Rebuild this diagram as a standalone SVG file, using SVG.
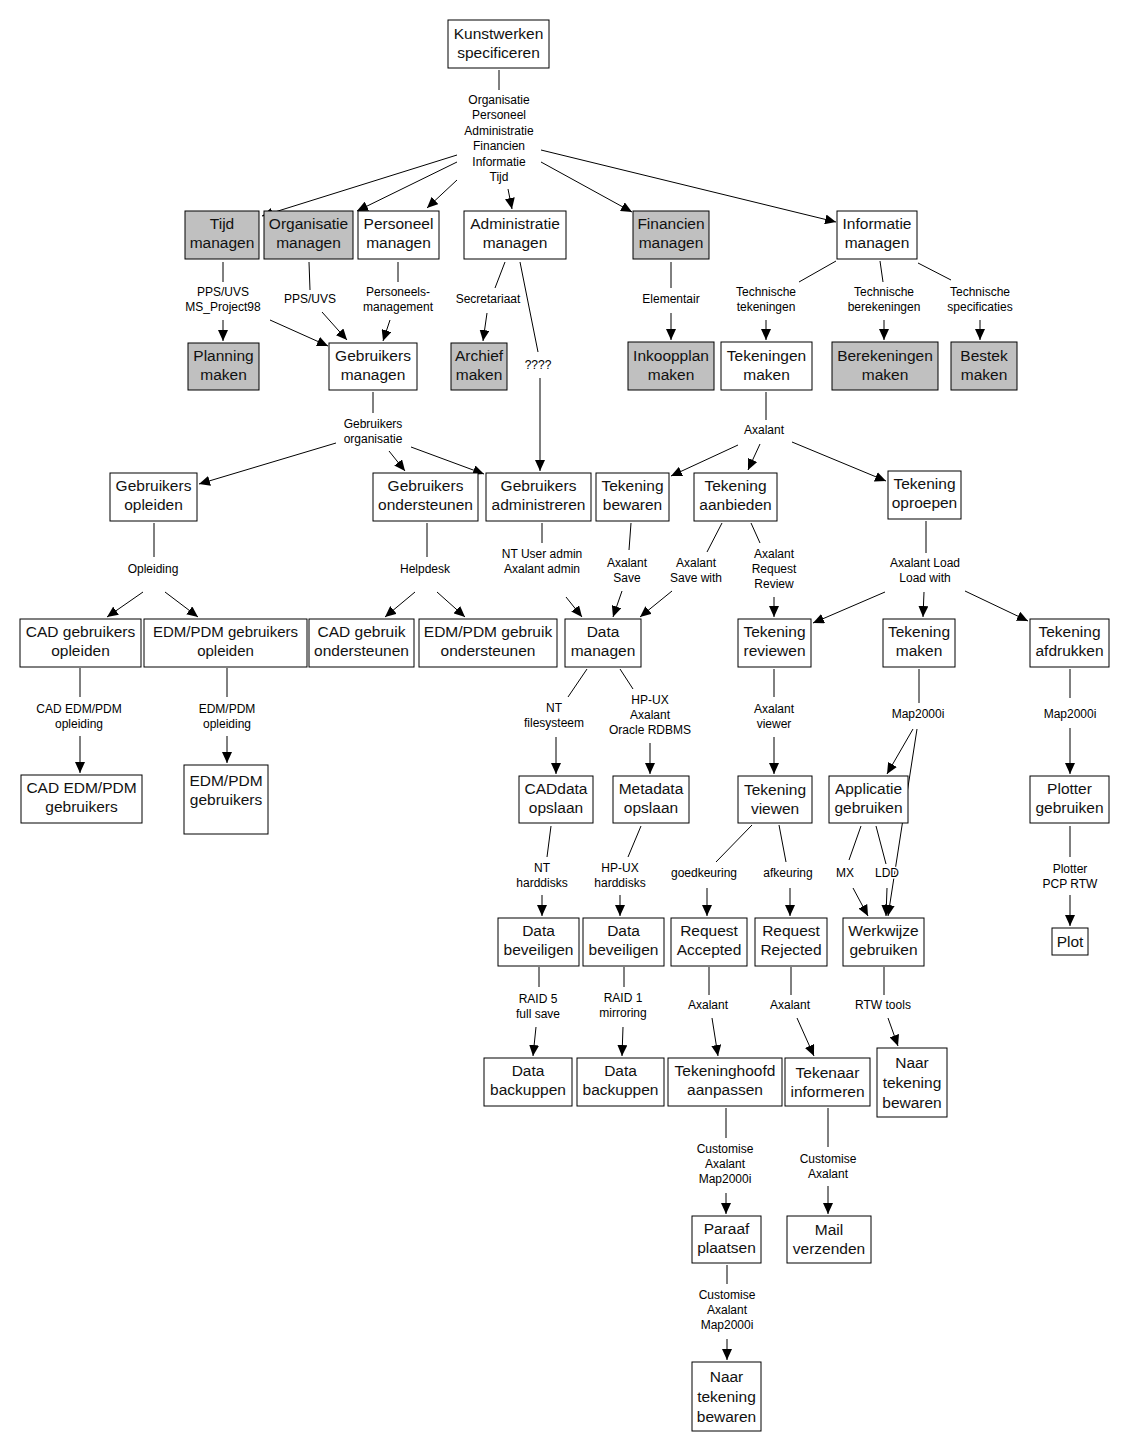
<svg xmlns="http://www.w3.org/2000/svg" width="1126" height="1450" viewBox="0 0 1126 1450">
<style>
.b{fill:#fff;stroke:#000;stroke-width:1}
.g{fill:#c0c0c0;stroke:#000;stroke-width:1}
.t{font-family:"Liberation Sans",Arial,sans-serif;font-size:15.5px;text-anchor:middle;fill:#111}
.s{font-size:15px}
.l{font-family:"Liberation Sans",Arial,sans-serif;font-size:12px;text-anchor:middle;fill:#000;stroke:#fff;stroke-width:3px;paint-order:stroke;stroke-linejoin:round}
.c line{stroke:#000;stroke-width:1}
.c .a{marker-end:url(#ah)}
</style>
<defs>
<marker id="ah" markerUnits="userSpaceOnUse" markerWidth="12" markerHeight="10" refX="11" refY="5" orient="auto"><path d="M0,0 L11,5 L0,10 z" fill="#000"/></marker>
</defs>
<rect width="1126" height="1450" fill="#fff"/>
<g class="c" id="connectors">
<line x1="499" y1="70" x2="499" y2="90"/>
<line class="a" x1="457" y1="155" x2="262" y2="216"/>
<line class="a" x1="457" y1="162" x2="357" y2="211"/>
<line class="a" x1="457" y1="180" x2="427" y2="208"/>
<line class="a" x1="508" y1="189" x2="512" y2="209"/>
<line class="a" x1="541" y1="162" x2="632" y2="212"/>
<line class="a" x1="541" y1="150" x2="836" y2="222"/>
<line x1="223" y1="262" x2="223" y2="282"/>
<line class="a" x1="223" y1="320" x2="223" y2="341"/>
<line class="a" x1="270" y1="320" x2="328" y2="346"/>
<line x1="309" y1="262" x2="310" y2="290"/>
<line class="a" x1="322" y1="312" x2="347" y2="340"/>
<line x1="398" y1="262" x2="398" y2="282"/>
<line class="a" x1="390" y1="320" x2="383" y2="341"/>
<line x1="505" y1="262" x2="495" y2="288"/>
<line class="a" x1="487" y1="313" x2="483" y2="341"/>
<line x1="520" y1="262" x2="538" y2="352"/>
<line class="a" x1="540" y1="378" x2="540" y2="471"/>
<line x1="671" y1="262" x2="671" y2="288"/>
<line class="a" x1="671" y1="313" x2="671" y2="340"/>
<line x1="836" y1="261" x2="799" y2="282"/>
<line class="a" x1="766" y1="320" x2="766" y2="340"/>
<line x1="880" y1="261" x2="883" y2="282"/>
<line class="a" x1="884" y1="320" x2="884" y2="340"/>
<line x1="918" y1="263" x2="951" y2="280"/>
<line class="a" x1="980" y1="320" x2="980" y2="340"/>
<line x1="373" y1="392" x2="373" y2="413"/>
<line class="a" x1="336" y1="443" x2="199" y2="484"/>
<line class="a" x1="389" y1="451" x2="405" y2="471"/>
<line class="a" x1="411" y1="447" x2="484" y2="474"/>
<line x1="766" y1="392" x2="766" y2="420"/>
<line class="a" x1="738" y1="445" x2="671" y2="476"/>
<line class="a" x1="760" y1="444" x2="748" y2="470"/>
<line class="a" x1="792" y1="442" x2="886" y2="481"/>
<line x1="154" y1="523" x2="154" y2="557"/>
<line class="a" x1="143" y1="592" x2="107" y2="617"/>
<line class="a" x1="165" y1="592" x2="198" y2="617"/>
<line x1="427" y1="523" x2="427" y2="557"/>
<line class="a" x1="415" y1="592" x2="385" y2="617"/>
<line class="a" x1="437" y1="592" x2="465" y2="617"/>
<line x1="542" y1="523" x2="542" y2="543"/>
<line class="a" x1="566" y1="597" x2="582" y2="617"/>
<line x1="631" y1="523" x2="629" y2="550"/>
<line class="a" x1="622" y1="591" x2="613" y2="617"/>
<line x1="722" y1="523" x2="707" y2="552"/>
<line class="a" x1="672" y1="591" x2="640" y2="617"/>
<line x1="751" y1="523" x2="760" y2="543"/>
<line class="a" x1="774" y1="597" x2="774" y2="617"/>
<line x1="926" y1="521" x2="926" y2="553"/>
<line class="a" x1="885" y1="592" x2="813" y2="623"/>
<line class="a" x1="924" y1="592" x2="923" y2="617"/>
<line class="a" x1="965" y1="591" x2="1028" y2="621"/>
<line x1="80" y1="668" x2="80" y2="697"/>
<line class="a" x1="80" y1="736" x2="80" y2="773"/>
<line x1="227" y1="668" x2="227" y2="697"/>
<line class="a" x1="227" y1="736" x2="227" y2="763"/>
<line x1="587" y1="669" x2="568" y2="697"/>
<line class="a" x1="556" y1="737" x2="556" y2="774"/>
<line x1="620" y1="669" x2="633" y2="689"/>
<line class="a" x1="650" y1="743" x2="650" y2="774"/>
<line x1="774" y1="669" x2="774" y2="697"/>
<line class="a" x1="774" y1="737" x2="774" y2="774"/>
<line x1="919" y1="669" x2="919" y2="703"/>
<line class="a" x1="913" y1="729" x2="887" y2="774"/>
<line class="a" x1="917" y1="729" x2="888" y2="916"/>
<line x1="1070" y1="669" x2="1070" y2="698"/>
<line class="a" x1="1070" y1="728" x2="1070" y2="774"/>
<line x1="551" y1="826" x2="547" y2="857"/>
<line class="a" x1="542" y1="895" x2="542" y2="916"/>
<line x1="641" y1="826" x2="628" y2="857"/>
<line class="a" x1="620" y1="895" x2="620" y2="916"/>
<line x1="752" y1="825" x2="716" y2="862"/>
<line class="a" x1="707" y1="888" x2="707" y2="916"/>
<line x1="779" y1="825" x2="786" y2="862"/>
<line class="a" x1="790" y1="888" x2="790" y2="916"/>
<line x1="861" y1="826" x2="849" y2="860"/>
<line class="a" x1="853" y1="888" x2="868" y2="916"/>
<line x1="876" y1="826" x2="886" y2="864"/>
<line class="a" x1="887" y1="888" x2="886" y2="916"/>
<line x1="1070" y1="826" x2="1070" y2="857"/>
<line class="a" x1="1070" y1="895" x2="1070" y2="926"/>
<line x1="539" y1="967" x2="539" y2="987"/>
<line class="a" x1="536" y1="1027" x2="533" y2="1056"/>
<line x1="624" y1="967" x2="624" y2="987"/>
<line class="a" x1="623" y1="1027" x2="622" y2="1056"/>
<line x1="709" y1="967" x2="709" y2="995"/>
<line class="a" x1="712" y1="1018" x2="718" y2="1056"/>
<line x1="791" y1="967" x2="791" y2="995"/>
<line class="a" x1="797" y1="1018" x2="814" y2="1056"/>
<line x1="884" y1="967" x2="884" y2="995"/>
<line class="a" x1="888" y1="1018" x2="898" y2="1046"/>
<line x1="726" y1="1108" x2="726" y2="1138"/>
<line class="a" x1="726" y1="1193" x2="726" y2="1214"/>
<line x1="828" y1="1108" x2="828" y2="1147"/>
<line class="a" x1="828" y1="1186" x2="828" y2="1214"/>
<line x1="727" y1="1265" x2="727" y2="1284"/>
<line class="a" x1="727" y1="1339" x2="727" y2="1360"/>
</g>
<g id="labels">
<text class="l"><tspan x="499" y="104">Organisatie</tspan><tspan x="499" y="119.4">Personeel</tspan><tspan x="499" y="134.8">Administratie</tspan><tspan x="499" y="150.2">Financien</tspan><tspan x="499" y="165.6">Informatie</tspan><tspan x="499" y="181">Tijd</tspan></text>
<text class="l"><tspan x="223" y="296">PPS/UVS</tspan><tspan x="223" y="311">MS_Project98</tspan></text>
<text class="l" x="310" y="303">PPS/UVS</text>
<text class="l"><tspan x="398" y="296">Personeels-</tspan><tspan x="398" y="311">management</tspan></text>
<text class="l" x="488" y="303">Secretariaat</text>
<text class="l" x="538" y="369">????</text>
<text class="l" x="671" y="303">Elementair</text>
<text class="l"><tspan x="766" y="296">Technische</tspan><tspan x="766" y="311">tekeningen</tspan></text>
<text class="l"><tspan x="884" y="296">Technische</tspan><tspan x="884" y="311">berekeningen</tspan></text>
<text class="l"><tspan x="980" y="296">Technische</tspan><tspan x="980" y="311">specificaties</tspan></text>
<text class="l"><tspan x="373" y="428">Gebruikers</tspan><tspan x="373" y="443">organisatie</tspan></text>
<text class="l" x="764" y="434">Axalant</text>
<text class="l" x="153" y="573">Opleiding</text>
<text class="l" x="425" y="573">Helpdesk</text>
<text class="l"><tspan x="542" y="558">NT User admin</tspan><tspan x="542" y="573">Axalant admin</tspan></text>
<text class="l"><tspan x="627" y="567">Axalant</tspan><tspan x="627" y="582">Save</tspan></text>
<text class="l"><tspan x="696" y="567">Axalant</tspan><tspan x="696" y="582">Save with</tspan></text>
<text class="l"><tspan x="774" y="558">Axalant</tspan><tspan x="774" y="573">Request</tspan><tspan x="774" y="588">Review</tspan></text>
<text class="l"><tspan x="925" y="567">Axalant Load</tspan><tspan x="925" y="582">Load with</tspan></text>
<text class="l"><tspan x="79" y="713">CAD EDM/PDM</tspan><tspan x="79" y="728">opleiding</tspan></text>
<text class="l"><tspan x="227" y="713">EDM/PDM</tspan><tspan x="227" y="728">opleiding</tspan></text>
<text class="l"><tspan x="554" y="712">NT</tspan><tspan x="554" y="727">filesysteem</tspan></text>
<text class="l"><tspan x="650" y="704">HP-UX</tspan><tspan x="650" y="719">Axalant</tspan><tspan x="650" y="734">Oracle RDBMS</tspan></text>
<text class="l"><tspan x="774" y="713">Axalant</tspan><tspan x="774" y="728">viewer</tspan></text>
<text class="l" x="918" y="718">Map2000i</text>
<text class="l" x="1070" y="718">Map2000i</text>
<text class="l"><tspan x="542" y="872">NT</tspan><tspan x="542" y="887">harddisks</tspan></text>
<text class="l"><tspan x="620" y="872">HP-UX</tspan><tspan x="620" y="887">harddisks</tspan></text>
<text class="l" x="704" y="877">goedkeuring</text>
<text class="l" x="788" y="877">afkeuring</text>
<text class="l" x="845" y="877">MX</text>
<text class="l" x="887" y="877">LDD</text>
<text class="l"><tspan x="1070" y="873">Plotter</tspan><tspan x="1070" y="888">PCP RTW</tspan></text>
<text class="l"><tspan x="538" y="1003">RAID 5</tspan><tspan x="538" y="1018">full save</tspan></text>
<text class="l"><tspan x="623" y="1002">RAID 1</tspan><tspan x="623" y="1017">mirroring</tspan></text>
<text class="l" x="708" y="1009">Axalant</text>
<text class="l" x="790" y="1009">Axalant</text>
<text class="l" x="883" y="1009">RTW tools</text>
<text class="l"><tspan x="725" y="1153">Customise</tspan><tspan x="725" y="1168">Axalant</tspan><tspan x="725" y="1183">Map2000i</tspan></text>
<text class="l"><tspan x="828" y="1163">Customise</tspan><tspan x="828" y="1178">Axalant</tspan></text>
<text class="l"><tspan x="727" y="1299">Customise</tspan><tspan x="727" y="1314">Axalant</tspan><tspan x="727" y="1329">Map2000i</tspan></text>
</g>
<g id="n-kunst"><rect class="b" x="448" y="20" width="101" height="48"/><text class="t"><tspan x="498.5" y="39">Kunstwerken</tspan><tspan x="498.5" y="58">specificeren</tspan></text></g>
<g id="n-tijd"><rect class="g" x="185" y="211" width="74" height="48"/><text class="t"><tspan x="222" y="229">Tijd</tspan><tspan x="222" y="248">managen</tspan></text></g>
<g id="n-org"><rect class="g" x="264" y="211" width="89" height="48"/><text class="t"><tspan x="308.5" y="229">Organisatie</tspan><tspan x="308.5" y="248">managen</tspan></text></g>
<g id="n-pers"><rect class="b" x="358" y="211" width="81" height="48"/><text class="t"><tspan x="398.5" y="229">Personeel</tspan><tspan x="398.5" y="248">managen</tspan></text></g>
<g id="n-admin"><rect class="b" x="464" y="211" width="102" height="48"/><text class="t"><tspan x="515" y="229">Administratie</tspan><tspan x="515" y="248">managen</tspan></text></g>
<g id="n-fin"><rect class="g" x="633" y="211" width="76" height="48"/><text class="t"><tspan x="671" y="229">Financien</tspan><tspan x="671" y="248">managen</tspan></text></g>
<g id="n-info"><rect class="b" x="837" y="211" width="80" height="48"/><text class="t"><tspan x="877" y="229">Informatie</tspan><tspan x="877" y="248">managen</tspan></text></g>
<g id="n-plan"><rect class="g" x="188" y="343" width="71" height="47"/><text class="t"><tspan x="223.5" y="361">Planning</tspan><tspan x="223.5" y="380">maken</tspan></text></g>
<g id="n-gebrman"><rect class="b" x="329" y="343" width="88" height="47"/><text class="t"><tspan x="373" y="361">Gebruikers</tspan><tspan x="373" y="380">managen</tspan></text></g>
<g id="n-archief"><rect class="g" x="451" y="343" width="56" height="47"/><text class="t"><tspan x="479" y="361">Archief</tspan><tspan x="479" y="380">maken</tspan></text></g>
<g id="n-inkoop"><rect class="g" x="628" y="342" width="86" height="48"/><text class="t"><tspan x="671" y="361">Inkoopplan</tspan><tspan x="671" y="380">maken</tspan></text></g>
<g id="n-tekmaken"><rect class="b" x="721" y="342" width="91" height="48"/><text class="t"><tspan x="766.5" y="361">Tekeningen</tspan><tspan x="766.5" y="380">maken</tspan></text></g>
<g id="n-bereken"><rect class="g" x="832" y="342" width="106" height="48"/><text class="t"><tspan x="885" y="361">Berekeningen</tspan><tspan x="885" y="380">maken</tspan></text></g>
<g id="n-bestek"><rect class="g" x="951" y="342" width="66" height="48"/><text class="t"><tspan x="984" y="361">Bestek</tspan><tspan x="984" y="380">maken</tspan></text></g>
<g id="n-gopl"><rect class="b" x="110" y="473" width="87" height="48"/><text class="t"><tspan x="153.5" y="491">Gebruikers</tspan><tspan x="153.5" y="510">opleiden</tspan></text></g>
<g id="n-gond"><rect class="b" x="373" y="473" width="105" height="48"/><text class="t"><tspan x="425.5" y="491">Gebruikers</tspan><tspan x="425.5" y="510">ondersteunen</tspan></text></g>
<g id="n-gadm"><rect class="b" x="486" y="473" width="105" height="48"/><text class="t"><tspan x="538.5" y="491">Gebruikers</tspan><tspan x="538.5" y="510">administreren</tspan></text></g>
<g id="n-tbew"><rect class="b" x="596" y="473" width="73" height="48"/><text class="t"><tspan x="632.5" y="491">Tekening</tspan><tspan x="632.5" y="510">bewaren</tspan></text></g>
<g id="n-taanb"><rect class="b" x="694" y="473" width="83" height="48"/><text class="t"><tspan x="735.5" y="491">Tekening</tspan><tspan x="735.5" y="510">aanbieden</tspan></text></g>
<g id="n-topr"><rect class="b" x="888" y="471" width="73" height="48"/><text class="t"><tspan x="924.5" y="489">Tekening</tspan><tspan x="924.5" y="508">oproepen</tspan></text></g>
<g id="n-cadopl"><rect class="b" x="20" y="619" width="121" height="48"/><text class="t"><tspan x="80.5" y="637">CAD gebruikers</tspan><tspan x="80.5" y="656">opleiden</tspan></text></g>
<g id="n-edmopl"><rect class="b" x="144" y="619" width="163" height="48"/><text class="t s"><tspan x="225.5" y="637">EDM/PDM gebruikers</tspan><tspan x="225.5" y="656">opleiden</tspan></text></g>
<g id="n-cadond"><rect class="b" x="309" y="619" width="105" height="48"/><text class="t"><tspan x="361.5" y="637">CAD gebruik</tspan><tspan x="361.5" y="656">ondersteunen</tspan></text></g>
<g id="n-edmond"><rect class="b" x="419" y="619" width="138" height="48"/><text class="t"><tspan x="488" y="637">EDM/PDM gebruik</tspan><tspan x="488" y="656">ondersteunen</tspan></text></g>
<g id="n-datam"><rect class="b" x="565" y="619" width="76" height="48"/><text class="t"><tspan x="603" y="637">Data</tspan><tspan x="603" y="656">managen</tspan></text></g>
<g id="n-trev"><rect class="b" x="738" y="619" width="73" height="48"/><text class="t"><tspan x="774.5" y="637">Tekening</tspan><tspan x="774.5" y="656">reviewen</tspan></text></g>
<g id="n-tmak"><rect class="b" x="883" y="619" width="72" height="48"/><text class="t"><tspan x="919" y="637">Tekening</tspan><tspan x="919" y="656">maken</tspan></text></g>
<g id="n-tafd"><rect class="b" x="1030" y="619" width="79" height="48"/><text class="t"><tspan x="1069.5" y="637">Tekening</tspan><tspan x="1069.5" y="656">afdrukken</tspan></text></g>
<g id="n-cadedm"><rect class="b" x="21" y="775" width="121" height="48"/><text class="t"><tspan x="81.5" y="793">CAD EDM/PDM</tspan><tspan x="81.5" y="812">gebruikers</tspan></text></g>
<g id="n-edmg"><rect class="b" x="184" y="765" width="84" height="69"/><text class="t"><tspan x="226" y="786">EDM/PDM</tspan><tspan x="226" y="805">gebruikers</tspan></text></g>
<g id="n-caddata"><rect class="b" x="519" y="776" width="74" height="47"/><text class="t"><tspan x="556" y="794">CADdata</tspan><tspan x="556" y="813">opslaan</tspan></text></g>
<g id="n-meta"><rect class="b" x="613" y="776" width="76" height="47"/><text class="t"><tspan x="651" y="794">Metadata</tspan><tspan x="651" y="813">opslaan</tspan></text></g>
<g id="n-tview"><rect class="b" x="738" y="776" width="74" height="47"/><text class="t"><tspan x="775" y="795">Tekening</tspan><tspan x="775" y="814">viewen</tspan></text></g>
<g id="n-appl"><rect class="b" x="829" y="776" width="79" height="47"/><text class="t"><tspan x="868.5" y="794">Applicatie</tspan><tspan x="868.5" y="813">gebruiken</tspan></text></g>
<g id="n-plotter"><rect class="b" x="1030" y="776" width="79" height="47"/><text class="t"><tspan x="1069.5" y="794">Plotter</tspan><tspan x="1069.5" y="813">gebruiken</tspan></text></g>
<g id="n-dbev1"><rect class="b" x="498" y="918" width="81" height="48"/><text class="t"><tspan x="538.5" y="936">Data</tspan><tspan x="538.5" y="955">beveiligen</tspan></text></g>
<g id="n-dbev2"><rect class="b" x="583" y="918" width="81" height="48"/><text class="t"><tspan x="623.5" y="936">Data</tspan><tspan x="623.5" y="955">beveiligen</tspan></text></g>
<g id="n-racc"><rect class="b" x="671" y="918" width="76" height="48"/><text class="t"><tspan x="709" y="936">Request</tspan><tspan x="709" y="955">Accepted</tspan></text></g>
<g id="n-rrej"><rect class="b" x="755" y="918" width="72" height="48"/><text class="t"><tspan x="791" y="936">Request</tspan><tspan x="791" y="955">Rejected</tspan></text></g>
<g id="n-werk"><rect class="b" x="843" y="918" width="81" height="48"/><text class="t"><tspan x="883.5" y="936">Werkwijze</tspan><tspan x="883.5" y="955">gebruiken</tspan></text></g>
<g id="n-plot"><rect class="b" x="1052" y="928" width="36" height="27"/><text class="t" x="1070" y="947">Plot</text></g>
<g id="n-dback1"><rect class="b" x="484" y="1058" width="88" height="48"/><text class="t"><tspan x="528" y="1076">Data</tspan><tspan x="528" y="1095">backuppen</tspan></text></g>
<g id="n-dback2"><rect class="b" x="577" y="1058" width="87" height="48"/><text class="t"><tspan x="620.5" y="1076">Data</tspan><tspan x="620.5" y="1095">backuppen</tspan></text></g>
<g id="n-tkhoofd"><rect class="b" x="668" y="1058" width="114" height="48"/><text class="t"><tspan x="725" y="1076">Tekeninghoofd</tspan><tspan x="725" y="1095">aanpassen</tspan></text></g>
<g id="n-tkinfo"><rect class="b" x="785" y="1058" width="85" height="48"/><text class="t"><tspan x="827.5" y="1078">Tekenaar</tspan><tspan x="827.5" y="1097">informeren</tspan></text></g>
<g id="n-naar1"><rect class="b" x="877" y="1048" width="70" height="69"/><text class="t"><tspan x="912" y="1068">Naar</tspan><tspan x="912" y="1088">tekening</tspan><tspan x="912" y="1108">bewaren</tspan></text></g>
<g id="n-paraaf"><rect class="b" x="692" y="1216" width="69" height="47"/><text class="t"><tspan x="726.5" y="1234">Paraaf</tspan><tspan x="726.5" y="1253">plaatsen</tspan></text></g>
<g id="n-mail"><rect class="b" x="787" y="1216" width="84" height="47"/><text class="t"><tspan x="829" y="1235">Mail</tspan><tspan x="829" y="1254">verzenden</tspan></text></g>
<g id="n-naar2"><rect class="b" x="692" y="1362" width="69" height="69"/><text class="t"><tspan x="726.5" y="1382">Naar</tspan><tspan x="726.5" y="1402">tekening</tspan><tspan x="726.5" y="1422">bewaren</tspan></text></g>
</svg>
